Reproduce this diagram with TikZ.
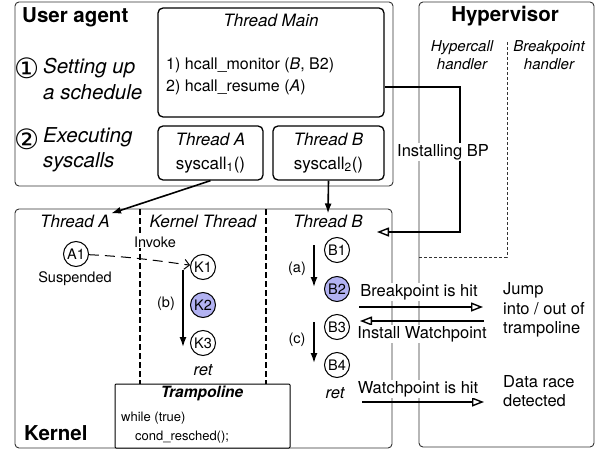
\documentclass[tikz,border=0pt]{standalone}
\usepackage{fontspec}
\setmainfont{TeX Gyre Heros}
\newfontfamily\circfont{DejaVu Sans}
\usepackage{xcolor}
\usetikzlibrary{arrows.meta}
\usetikzlibrary{positioning}
\newcommand{\fsz}[2]{\fontsize{#1}{#2}\selectfont}
\definecolor{lav}{RGB}{178,178,242}
\tikzset{
    region/.style={
        draw=black!80,
        rounded corners=4pt,
        line width=0.9pt
    },
    thbox/.style={
        draw,
        rounded corners=5pt,
        line width=1.3pt,
        align=center,
        font=\fsz{17}{24}
    },
    evt/.style={
        draw,
        circle,
        fill=white,
        minimum size=25pt,
        inner sep=0pt,
        line width=1pt,
        font=\fsz{14.5}{16}
    },
    hot/.style={fill=lav},
    flow/.style={-{Latex[length=10pt, width=7pt]}, line width=1.6pt},
    hcall/.style={-{Triangle[open, length=12pt, width=9pt]}, line width=1.4pt},
    invoke/.style={-{Straight Barb[length=5pt, width=10pt]}, line width=1pt, dash pattern=on 10pt off 6pt},
    coldash/.style={line width=1.8pt, dash pattern=on 6pt off 3pt},
    hvdash/.style={draw=black!80, line width=0.8pt, dash pattern=on 3pt off 2pt}
}
\tikzset{
    title/.style={font=\fsz{20.5}{24}\bfseries, inner sep=0pt},
    steptxt/.style={font=\fsz{20.5}{25.5}\itshape, align=left, inner sep=0pt},
    stepnum/.style={font=\circfont\fsz{28}{30}, inner sep=0pt},
    thname/.style={font=\fsz{17}{20}\itshape, inner sep=1pt},
    codeln/.style={font=\fsz{16}{19}, inner sep=0pt},
    lbl/.style={font=\fsz{16.5}{19.5}, inner sep=1pt},
    handler/.style={font=\fsz{15}{18}\itshape, align=center},
    smalltxt/.style={font=\fsz{14.5}{17}, inner sep=1pt},
    retlbl/.style={font=\fsz{16.5}{19}\itshape}
}

\begin{document}
\begin{tikzpicture}[x=1pt, y=-1pt]
    \useasboundingbox (0,0) rectangle (598,450);

    % Regions
    \draw[region] (15,2) rectangle (393,186);
    \draw[region] (419,2) rectangle (594,447);
    \draw[region] (15,209) rectangle (392,448);

    % User agent
    \node[title, anchor=base west] (ua) at (22,22) {User agent};
    \node[stepnum, anchor=west] (n1) at (14,68) {①};
    \node[steptxt, anchor=west] (s1) at (43,79) {Setting up\\a schedule};
    \node[stepnum, anchor=west] (n2) at (14,139) {②};
    \node[steptxt, anchor=west] (s2) at (43,150) {Executing\\syscalls};

    \node[thbox, minimum width=226pt, minimum height=109pt] (main) at (271,62.5) {};
    \node[thname] (mainT) at (271,20) {Thread Main};
    \node[codeln, anchor=west] (mon) at (166,65) {1) hcall\_monitor (\textit{B}, B2)};
    \node[codeln, anchor=west] (res) at (166,87) {2) hcall\_resume (\textit{A})};
    \node[thbox, minimum width=105pt, minimum height=54pt] (thA) at (210.5,153)
        {\textit{Thread A}\\syscall\textsubscript{1}()};
    \node[thbox, minimum width=111pt, minimum height=54pt] (thB) at (328.5,153)
        {\textit{Thread B}\\syscall\textsubscript{2}()};

    % Hypervisor
    \node[title] (hv) at (505,16) {Hypervisor};
    \node[handler] (hch) at (462,55) {Hypercall\\handler};
    \node[handler] (bph) at (549,55) {Breakpoint\\handler};
    \draw[hvdash] (507,42) |- (419,257);

    % Kernel
    \node[title, anchor=base west] (kn) at (24,440) {Kernel};
    \node[thname] (kA) at (75,221) {Thread A};
    \node[thname] (kK) at (203,221) {Kernel Thread};
    \node[thname] (kB) at (328,221) {Thread B};
    \draw[coldash] (140,209) -- (140,384);
    \draw[coldash] (266,209) -- (266,384);

    \node[evt] (A1) at (76,254) {A1};
    \node[smalltxt] (susp) at (75,279) {Suspended};
    \node[evt] (K1) at (203,267) {K1};
    \node[evt, hot] (K2) at (203,305) {K2};
    \node[evt] (K3) at (203,343) {K3};
    \node[retlbl] (Kret) at (203,370) {ret};
    \node[evt] (B1) at (337,250) {B1};
    \node[evt, hot] (B2) at (337,289) {B2};
    \node[evt] (B3) at (337,327) {B3};
    \node[evt] (B4) at (337,365) {B4};
    \node[retlbl] (Bret) at (335,393) {ret};

    \draw[invoke] (A1) to[out=-3, in=172] (K1);
    \node[smalltxt, fill=white] (inv) at (155,242) {Invoke};
    \draw[flow] ([xshift=-20pt, yshift=-3pt]K1.center) -- ([xshift=-20pt, yshift=-4pt]K3.center);
    \node[smalltxt] (lb) at (166,304) {(b)};
    \draw[flow] ([xshift=-23pt, yshift=5pt]B1.center) -- ([xshift=-23pt, yshift=2pt]B2.center);
    \node[smalltxt] (la) at (297,269) {(a)};
    \draw[flow] ([xshift=-23pt, yshift=5pt]B3.center) -- ([xshift=-23pt, yshift=2pt]B4.center);
    \node[smalltxt] (lc) at (297,340) {(c)};

    \node[draw, line width=1pt, fill=white, rounded corners=1pt,
          minimum width=175pt, minimum height=64pt] (tramp) at (202.5,416) {};
    \node[font=\fsz{15.5}{18}\bfseries\itshape] (trT) at (202,393) {Trampoline};
    \node[font=\fsz{13}{16}, anchor=west, inner sep=0pt] (wh) at (121,418) {while (true)};
    \node[font=\fsz{13}{16}, anchor=west, inner sep=0pt] (cr) at (135,437) {cond\_resched();};

    % Syscalls into the kernel
    \draw[flow] (thA.south) -- (kA.north east);
    \draw[flow] (thB.south) -- (kB.north);

    % Installing the breakpoint
    \coordinate (bpturn) at (460,232);
    \coordinate (bpend) at (377,232);
    \draw[hcall] (res.east -| main.east) -| (bpturn) -- (bpend);
    \node[lbl, fill=white] (inst) at (443,152) {Installing BP};

    % Hits and watchpoints
    \coordinate (hitL) at (359,307);
    \coordinate (hitR) at (483,307);
    \coordinate (wpL) at (360,321);
    \coordinate (wpR) at (484,321);
    \coordinate (raceL) at (362,402);
    \coordinate (raceR) at (484,402);
    \draw[hcall] (hitL) -- (hitR);
    \draw[hcall] (wpR) -- (wpL);
    \draw[hcall] (raceL) -- (raceR);
    \node[lbl, fill=white] (bphit) at (419,292) {Breakpoint is hit};
    \node[lbl, fill=white] (wpset) at (422,334) {Install Watchpoint};
    \node[lbl, fill=white] (wphit) at (418,389) {Watchpoint is hit};
    \node[lbl, align=left, anchor=west] (jump) at (502,310) {Jump\\into / out of\\trampoline};
    \node[lbl, align=left, anchor=west] (race) at (502,391) {Data race\\detected};
\end{tikzpicture}
\end{document}
